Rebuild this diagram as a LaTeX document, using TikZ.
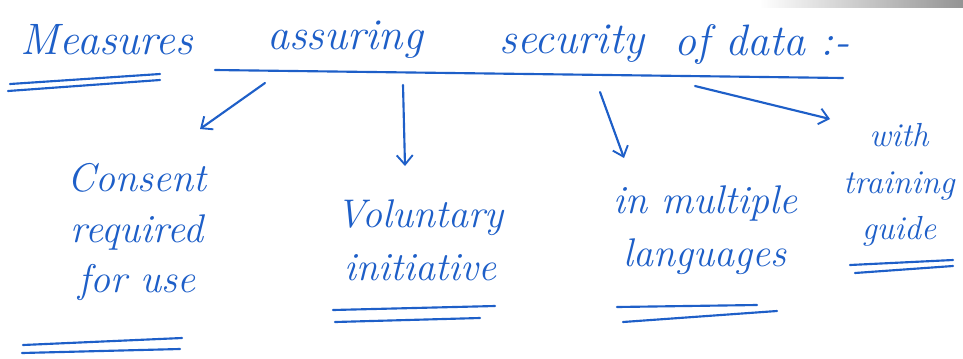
\documentclass[tikz,border=0pt]{standalone}
\usetikzlibrary{arrows.meta}
\definecolor{ink}{RGB}{30,95,200}
\begin{document}
\begin{tikzpicture}[x=0.75pt,y=-0.75pt,
  pen/.style={draw=ink,line width=1.6pt,line cap=round},
  arr/.style={pen,-{Straight Barb[length=7pt,width=12pt,line width=1.4pt]}},
  hand/.style={text=ink,font=\fontsize{30}{36}\selectfont\itshape,inner sep=0pt,align=center},
  title/.style={hand,font=\fontsize{33}{38}\selectfont\itshape}]
\useasboundingbox (0,0) rectangle (963,358);
\fill[white] (0,0) rectangle (963,358);
% scanner shadow along the top edge
\shade[left color=white,right color=black!70,opacity=0.6] (760,0) rectangle (963,7);

% heading
\node[title] (w1) at (107,40) {Measures};
\node[title] (w2) at (345,40) {assuring};
\node[title] (w3) at (572,44) {security};
\node[title] (w4) at (762,44) {of data :-};
\draw[pen] (10,84) -- (160,74);
\draw[pen] (8,91) -- (160,80);
\coordinate (h1) at (215,70);
\coordinate (h2) at (843,78);
\draw[pen] (h1) -- (h2);

% items
\node[hand] (c) at (137,232) {Consent\\[2pt]required\\[2pt]for use};
\node[hand] (v) at (420,240) {Voluntary\\[4pt]initiative};
\node[hand] (m) at (705,230) {in multiple\\[4pt]languages};
\node[hand,font=\fontsize{25}{29}\selectfont\itshape] (g) at (899,185) {with\\[6pt]training\\[6pt]guide};

% branches
\coordinate (b1) at (265,83);
\coordinate (b2) at (403,85);
\coordinate (b3) at (600,92);
\coordinate (b4) at (695,86);
\coordinate (e1) at (200,129);
\coordinate (e2) at (405,166);
\coordinate (e3) at (624,158);
\coordinate (e4) at (830,119);
\draw[arr] (b1) -- (e1);
\draw[arr] (b2) -- (e2);
\draw[arr] (b3) -- (e3);
\draw[arr] (b4) -- (e4);

% underlines
\draw[pen] (23,345) -- (182,338);
\draw[pen] (22,353) -- (180,349);
\draw[pen] (333,310) -- (495,306);
\draw[pen] (335,322) -- (480,318);
\draw[pen] (617,307) -- (757,305);
\draw[pen] (623,322) -- (777,311);
\draw[pen] (850,265) -- (953,260);
\draw[pen] (855,273) -- (953,266);
\end{tikzpicture}
\end{document}
